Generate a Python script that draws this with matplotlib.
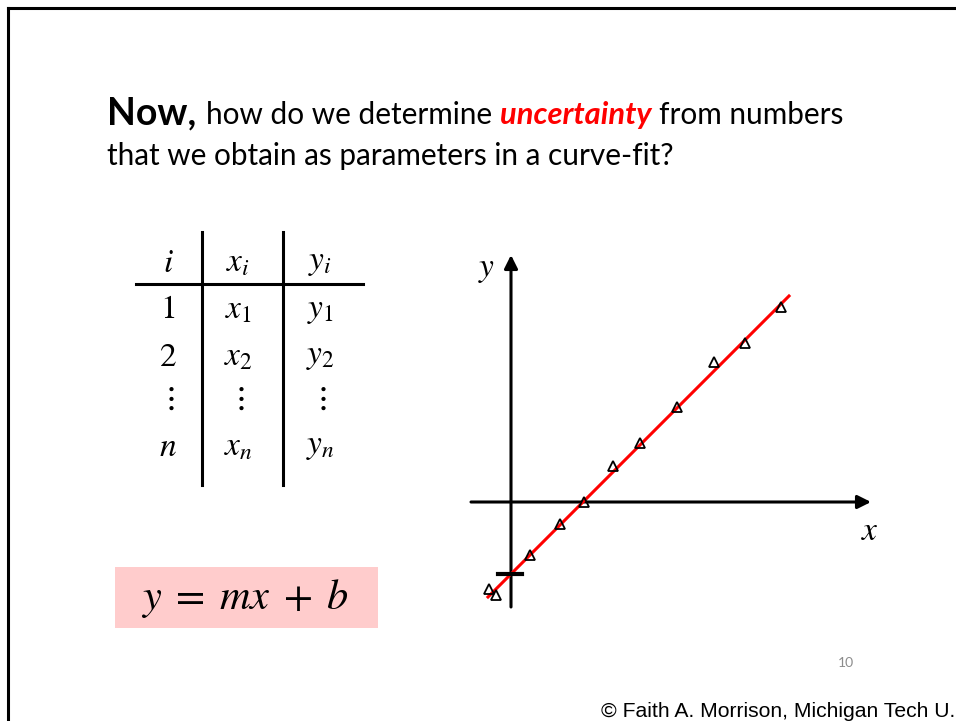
import matplotlib
matplotlib.use("Agg")
import matplotlib.pyplot as plt
from matplotlib.patches import Rectangle
import numpy as np

plt.rcParams["mathtext.fontset"] = "stix"

# ---- data ----
x_data = [-2.2, -1.5, 1.9, 4.9, 7.3, 10.2, 12.9, 16.6, 20.3, 23.4, 27.0]
y_data = [-8.7, -9.3, -5.3, -2.2, 0.0, 3.6, 5.9, 9.5, 14.0, 15.9, 19.5]
slope = 1.0
intercept = -7.2
fit_x_range = [-2.3, 27.8]

table_header = [r"$i$", r"$x_i$", r"$y_i$"]
table_rows = [
    [r"$1$", r"$x_1$", r"$y_1$"],
    [r"$2$", r"$x_2$", r"$y_2$"],
    [r"$\vdots$", r"$\vdots$", r"$\vdots$"],
    [r"$n$", r"$x_n$", r"$y_n$"],
]

W, H = 956, 721
fig = plt.figure(figsize=(W / 100, H / 100), dpi=100)

# Page overlay in pixel coordinates
page = fig.add_axes([0, 0, 1, 1])
page.set_xlim(0, W)
page.set_ylim(H, 0)
page.axis("off")

# slide frame
page.plot([8, W + 5], [8, 8], color="black", lw=2.2, solid_capstyle="projecting")
page.plot([8, 8], [8, H + 5], color="black", lw=2.2, solid_capstyle="projecting")

body_font = "Lato"
body_size = 21.4
page.text(107, 124, "Now,", fontsize=27, fontweight="bold", family=body_font,
          va="baseline", ha="left")
page.text(206, 124, "how do we determine", fontsize=body_size, family=body_font,
          va="baseline", ha="left")
page.text(500, 124, "uncertainty", fontsize=22.2, family=body_font,
          fontweight="bold", fontstyle="italic", color="#ff0000",
          va="baseline", ha="left")
page.text(659, 124, "from numbers", fontsize=body_size, family=body_font,
          va="baseline", ha="left")
page.text(107, 165, "that we obtain as parameters in a curve-fit?", fontsize=body_size,
          family=body_font, va="baseline", ha="left")

# table
col_x = [168, 238, 320]
header_y = 262
row_y = [309, 356, 397, 446]
for cx, t in zip(col_x, table_header):
    page.text(cx, header_y, t, fontsize=24, ha="center", va="center")
for ry, row in zip(row_y, table_rows):
    for cx, t in zip(col_x, row):
        page.text(cx, ry, t, fontsize=24, ha="center", va="center")
page.plot([136, 363], [284, 284], color="black", lw=2.2)
for vx in (202, 283):
    page.plot([vx, vx], [232, 485], color="black", lw=2.2)

# equation box
page.add_patch(Rectangle((115, 567), 263, 61, facecolor="#ffcccc", edgecolor="none"))
page.text(245, 599, r"$y\;=\;mx\;+\;b$", fontsize=30.5, ha="center", va="center")

# page number and credit
page.text(846, 663, "10", fontsize=10, color="#8c8c8c", family=body_font,
          ha="center", va="center")
page.text(955, 717, "\u00a9 Faith A. Morrison, Michigan Tech U.", fontsize=15.2,
          family="Liberation Sans", ha="right", va="baseline")

# ---- plot of data and fitted line ----
ox, oy = 511, 502  # pixel position of origin
scale = 10.0       # pixels per unit
left, right, top, bottom = 461, 891, 245, 617
ax = fig.add_axes([left / W, 1 - bottom / H, (right - left) / W, (bottom - top) / H])
ax.set_xlim((left - ox) / scale, (right - ox) / scale)
ax.set_ylim((oy - bottom) / scale, (oy - top) / scale)
ax.axis("off")

arrow = dict(arrowstyle="-|>,head_length=0.5,head_width=0.25", color="black",
             lw=2.2, mutation_scale=16, shrinkA=0, shrinkB=0)
ax.annotate("", xy=(36.0, 0), xytext=(-4.0, 0), arrowprops=arrow)
ax.annotate("", xy=(0, 24.7), xytext=(0, -10.5), arrowprops=arrow)

fx = np.array(fit_x_range)
ax.plot(fx, slope * fx + intercept, color="#ff0000", lw=2.2, zorder=3)
ax.plot([-1.3, 1.1], [intercept, intercept], color="black", lw=3.0, zorder=4)
ax.plot(x_data, y_data, linestyle="none", marker="^", markersize=7,
        markerfacecolor="none", markeredgecolor="black", markeredgewidth=1.3, zorder=5)

ax.text(-2.4, 23.4, r"$y$", fontsize=24, ha="center", va="center")
ax.text(35.9, -2.8, r"$x$", fontsize=24, ha="center", va="center")

fig.savefig("out.png", dpi=100)
